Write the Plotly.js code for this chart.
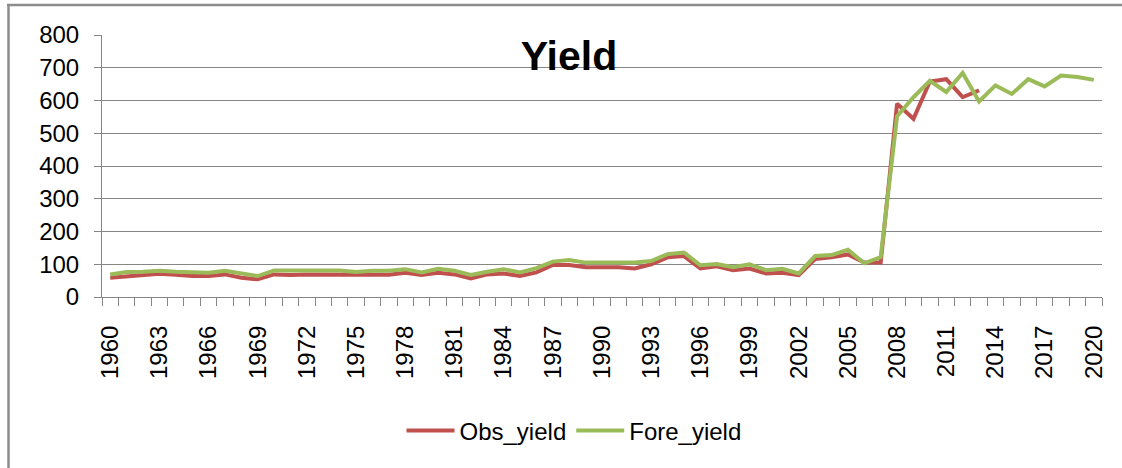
<!DOCTYPE html>
<html>
<head>
<meta charset="utf-8">
<script src="https://cdn.plot.ly/plotly-3.0.1.min.js"></script>
<style>html,body{margin:0;padding:0;background:#fff;}#chart{width:1122px;height:468px;}</style>
</head>
<body>
<div id="chart"></div>
<script>
const years = [1960,1961,1962,1963,1964,1965,1966,1967,1968,1969,
  1970,1971,1972,1973,1974,1975,1976,1977,1978,1979,
  1980,1981,1982,1983,1984,1985,1986,1987,1988,1989,
  1990,1991,1992,1993,1994,1995,1996,1997,1998,1999,
  2000,2001,2002,2003,2004,2005,2006,2007,2008,2009,
  2010,2011,2012,2013,2014,2015,2016,2017,2018,2019,2020];
const obsYield = [59,64,67,71,68,64,64,69,59,54,
  69,67,69,69,67,66,66,68,74,67,
  74,69,57,69,72,64,75,98,98,91,
  91,91,87,100,121,125,87,94,82,87,
  72,74,67,116,121,130,105,105,590,544,
  658,665,610,631];
const foreYield = [69,76,77,80,77,74,74,80,72,64,
  81,81,81,81,81,76,80,80,85,75,
  86,80,67,77,85,75,88,108,113,105,
  105,105,105,110,131,136,97,101,91,100,
  82,86,72,125,128,144,103,122,552,610,
  660,626,684,597,646,620,665,643,676,672,663];
const xTickYears = [1960,1963,1966,1969,1972,1975,1978,1981,1984,1987,1990,1993,1996,1999,2002,2005,2008,2011,2014,2017,2020];
const xTickLabels = ["1960","1963","1966","1969","1972","1975","1978","1981","1984","1987","1990","1993","1996","1999","2002","2005","2008","2011","2014","2017","2020"];
const seriesNames = ["Obs_yield","Fore_yield"];
const chartTitle = "Yield";

const FONT = "Liberation Sans, Arial, sans-serif";
const GRID = "#868686";

const traces = [
  {x: years.slice(0, obsYield.length), y: obsYield, name: seriesNames[0], type: "scatter", mode: "lines",
   line: {color: "#C0504D", width: 4}},
  {x: years, y: foreYield, name: seriesNames[1], type: "scatter", mode: "lines",
   line: {color: "#9BBB59", width: 4}}
];

const L = 102, R = 20, T = 35, B = 171, W = 1122, H = 468;
const pw = W - L - R, ph = H - T - B;
const px = v => (v - L) / pw;
const py = v => (H - B - v) / ph;

const layout = {
  width: W, height: H,
  margin: {l: L, r: R, t: T, b: B},
  paper_bgcolor: "#fff", plot_bgcolor: "#fff",
  font: {family: FONT, size: 24, color: "#000"},
  title: {text: chartTitle, font: {family: FONT, size: 41, weight: "bold", color: "#000"},
          x: 569 / W, xanchor: "center", y: 1 - 56 / H, yanchor: "middle"},
  showlegend: true,
  legend: {orientation: "h", x: px(574), xanchor: "center", y: py(431), yanchor: "middle",
           font: {family: FONT, size: 24, color: "#000"}, traceorder: "normal", itemwidth: 48},
  xaxis: {
    range: [1959.5, 2020.5], tickmode: "array", tickvals: xTickYears, ticktext: xTickLabels,
    tickangle: -90, ticks: "", showgrid: false, zeroline: false,
    showline: true, linecolor: GRID, linewidth: 1, ticklabelstandoff: 18,
    tickfont: {family: FONT, size: 24, color: "#000"},
    minor: {tick0: 1959.5, dtick: 1, ticks: "outside", ticklen: 8, tickcolor: GRID, tickwidth: 1, showgrid: false}
  },
  yaxis: {
    range: [0, 800], dtick: 100, tick0: 0, ticks: "outside", ticklen: 7, tickcolor: GRID,
    showgrid: true, gridcolor: GRID, gridwidth: 1, zeroline: false,
    showline: true, linecolor: GRID, linewidth: 1, ticklabelstandoff: 10,
    tickfont: {family: FONT, size: 24, color: "#000"}
  },
  shapes: [
    {type: "line", xref: "paper", yref: "paper", x0: px(7), x1: px(W + 5), y0: py(5), y1: py(5),
     line: {color: "#8c8c8c", width: 2.5}},
    {type: "line", xref: "paper", yref: "paper", x0: px(8.5), x1: px(8.5), y0: py(4), y1: py(H + 5),
     line: {color: "#8c8c8c", width: 2.5}}
  ]
};

Plotly.newPlot("chart", traces, layout, {displayModeBar: false, staticPlot: true});
</script>
</body>
</html>
